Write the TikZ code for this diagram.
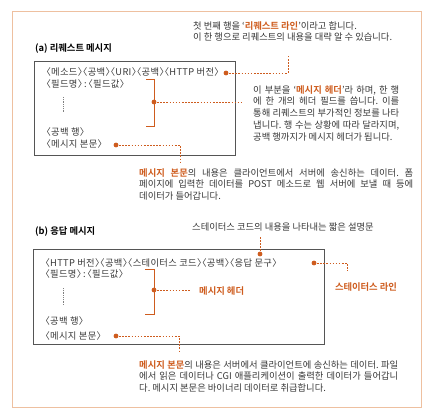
\documentclass[tikz,border=0pt]{standalone}
\usepackage{fontspec}
\setmainfont{Noto Sans CJK KR}[BoldFont={Noto Sans CJK KR Bold}]
\newfontfamily\kp{Noto Sans CJK KR}[RawFeature=+halt,LetterSpace=3.5]
\definecolor{orng}{RGB}{206,92,30}
\definecolor{txt}{RGB}{55,55,55}
\definecolor{framec}{RGB}{238,192,160}
\definecolor{boxc}{RGB}{85,85,85}
\newcommand\hlt[1]{{\color{orng}\bfseries #1}}
\newcommand\jl[2]{\makebox[#1][s]{#2}}
\newcommand\fieldline{{\kp 〈필드명〉}\,{\normalfont :}\,{\kp 〈필드값〉}}
\frenchspacing
\begin{document}
\begin{tikzpicture}[x=1pt,y=-1pt,
  font=\fontsize{9.3}{11.8}\selectfont\frenchspacing,
  frame/.style={draw=framec,line width=1pt},
  msgbox/.style={draw=boxc,line width=0.9pt,inner sep=0pt,anchor=north west},
  txtnode/.style={anchor=west,inner sep=0pt,text=txt},
  para/.style={anchor=north west,inner sep=0pt,text=txt,align=left},
  title/.style={anchor=west,inner sep=0pt,text=black,font=\fontsize{9.3}{11.8}\selectfont\bfseries},
  dotline/.style={draw=orng,line width=0.9pt,dash pattern=on 1.6pt off 1.5pt},
  brk/.style={draw=orng,line width=1pt},
  vdots/.style={draw=gray,line width=0.5pt,dash pattern=on 0.6pt off 1.2pt},
  dotmark/.style={fill=orng},
  orlabel/.style={inner sep=0pt,text=orng,font=\fontsize{9.3}{11.8}\selectfont\bfseries}]
\useasboundingbox (0,0) rectangle (426,412);
\draw[frame] (12,12) rectangle (421,407);

% ---------- (a) request ----------
\node[title] (reqtitle) at (35,49) {(a) 리퀘스트 메시지};
\node[msgbox,minimum width=201pt,minimum height=94pt] (reqbox) at (34,61) {};
\node[txtnode] (rline) at (46,72) {\kp 〈메소드〉〈공백〉〈URI〉〈공백〉〈HTTP 버전〉};
\node[txtnode] (rfield) at (46,84) {\fieldline};
\coordinate (rv1) at (63,97);
\coordinate (rv2) at (63,113);
\draw[vdots] (rv1) -- (rv2);
\node[txtnode] (rblank) at (46,132) {\kp 〈공백 행〉};
\node[txtnode] (rbody) at (46,144) {\kp 〈메시지 본문〉};

\coordinate (rb1) at (146,80);
\coordinate (rb2) at (154,126);
\coordinate (rb3) at (146,126);
\draw[brk] (rb1) -| (rb2) -- (rb3);

\node[para] (toptext) at (193,21) {첫 번째 행을 ‘\hlt{리퀘스트 라인}’이라고 합니다.\\이 한 행으로 리퀘스트의 내용을 대략 알 수 있습니다.};
\coordinate (rldot) at (226,73);
\coordinate (rlend) at (288,55);
\draw[dotline] (rldot) -| (rlend);
\fill[dotmark] (rldot) circle (2.4pt);

\coordinate (rhdot) at (154,102);
\coordinate (rhend) at (243,102);
\draw[dotline] (rhdot) -- (rhend);
\fill[dotmark] (rhdot) circle (2.4pt);
\node[para] (rhtext) at (253,85) {\jl{146pt}{이 부분을 ‘\hlt{메시지 헤더}’라 하며, 한 행}\\
\jl{146pt}{에 한 개의 헤더 필드를 씁니다. 이를}\\
\jl{146pt}{통해 리퀘스트의 부가적인 정보를 나타}\\
\jl{146pt}{냅니다. 행 수는 상황에 따라 달라지며,}\\
공백 행까지가 메시지 헤더가 됩니다.};

\coordinate (rbdot) at (116,145);
\coordinate (rbend) at (180,163);
\draw[dotline] (rbdot) -| (rbend);
\fill[dotmark] (rbdot) circle (2.4pt);
\node[para] (rbtext) at (139,168) {\jl{274pt}{\hlt{메시지 본문}의 내용은 클라이언트에서 서버에 송신하는 데이터. 폼}\\
\jl{274pt}{페이지에 입력한 데이터를 POST 메소드로 웹 서버에 보낼 때 등에}\\
데이터가 들어갑니다.};

% ---------- (b) response ----------
\node[title] (restitle) at (35,232) {(b) 응답 메시지};
\node[msgbox,minimum width=291pt,minimum height=95pt] (resbox) at (33,249) {};
\node[txtnode] (sline) at (45,263) {\kp 〈HTTP 버전〉〈공백〉〈스테이터스 코드〉〈공백〉〈응답 문구〉};
\node[txtnode] (sfield) at (45,274) {\fieldline};
\coordinate (sv1) at (63,288);
\coordinate (sv2) at (63,305);
\draw[vdots] (sv1) -- (sv2);
\node[txtnode] (sblank) at (45,321) {\kp 〈공백 행〉};
\node[txtnode] (sbody) at (45,336) {\kp 〈메시지 본문〉};

\coordinate (sb1) at (145,269);
\coordinate (sb2) at (154,314);
\coordinate (sb3) at (145,314);
\draw[brk] (sb1) -| (sb2) -- (sb3);
\coordinate (shdot) at (154,290);
\coordinate (shend) at (190,290);
\draw[dotline] (shdot) -- (shend);
\fill[dotmark] (shdot) circle (2.4pt);
\node[orlabel,anchor=west] (shlabel) at (199,291) {메시지 헤더};

\node[txtnode] (sctext) at (192,227) {스테이터스 코드의 내용을 나타내는 짧은 설명문};
\coordinate (scdot) at (260,254);
\coordinate (scend) at (260,237);
\draw[dotline] (scdot) -- (scend);
\fill[dotmark] (scdot) circle (2.4pt);

\coordinate (sldot) at (314,263);
\coordinate (slend) at (347,271);
\draw[dotline] (sldot) -| (slend);
\fill[dotmark] (sldot) circle (2.4pt);
\node[orlabel] (sllabel) at (366,287) {스테이터스 라인};

\coordinate (sbdot) at (116,336);
\coordinate (sbend) at (179,353);
\draw[dotline] (sbdot) -| (sbend);
\fill[dotmark] (sbdot) circle (2.4pt);
\node[para] (sbtext) at (139,360) {\jl{259pt}{\hlt{메시지 본문}의 내용은 서버에서 클라이언트에 송신하는 데이터. 파일}\\
\jl{259pt}{에서 읽은 데이터나 CGI 애플리케이션이 출력한 데이터가 들어갑니}\\
다. 메시지 본문은 바이너리 데이터로 취급합니다.};
\end{tikzpicture}
\end{document}
